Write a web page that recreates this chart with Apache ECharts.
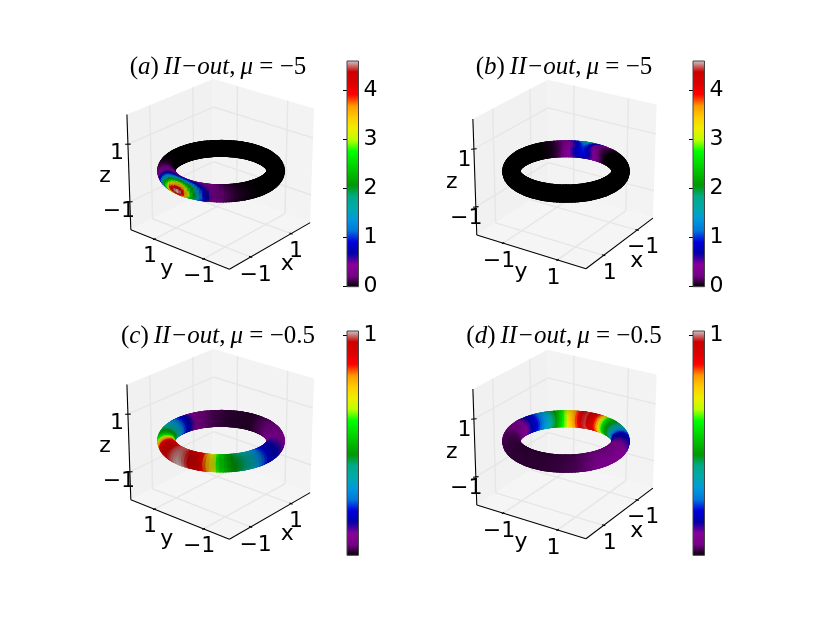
<!DOCTYPE html>
<html>
<head>
<meta charset="utf-8">
<title>II-out densities on a torus</title>
<style>html,body{margin:0;padding:0;background:#fff}#chart{width:817px;height:617px}</style>
<script src="https://cdn.jsdelivr.net/npm/echarts@6/dist/echarts.min.js"></script>
</head>
<body>
<div id="chart"></div>
<script>
// Density around the ring, one value every 10 degrees of the ring angle, for four bands of the tube cross-section.
const aOuter  = [0,0,0,0,0,0,0,0,0,0,0,.02,.05,.12,.3,.8,2.2,4,4.6,3.2,1.5,.6,.25,.12,.05,.02,0,0,0,0,0,0,0,0,0,0];
const aTop    = [0,0,0,0,0,0,0,0,0,0,0,.01,.03,.08,.2,.45,.8,1.05,1.1,.75,.45,.3,.15,.07,.03,.01,0,0,0,0,0,0,0,0,0,0];
const aInner  = [0,0,0,0,0,0,0,0,0,0,0,0,0,0,.01,.02,.04,.05,.05,.04,.03,.02,.01,0,0,0,0,0,0,0,0,0,0,0,0,0];
const aBottom = [0,0,0,0,0,0,0,0,0,0,0,.01,.03,.08,.2,.6,1.2,2,2.4,1.2,.5,.25,.12,.05,.02,0,0,0,0,0,0,0,0,0,0,0];
const bOuter  = [0,0,0,0,0,0,0,0,0,0,0,0,0,0,.02,.15,.6,1.6,3.4,5,2.8,1.2,.5,.2,.05,0,0,0,0,0,0,0,0,0,0,0];
const bTop    = [0,0,0,0,0,0,0,0,0,0,0,0,0,0,0,.02,.15,.35,.8,1.6,.9,.42,.2,.08,.03,0,0,0,0,0,0,0,0,0,0,0];
const bInner  = [0,0,0,0,0,0,0,0,0,0,0,0,0,0,0,.01,.1,.3,.65,.9,.75,.4,.18,.06,.02,0,0,0,0,0,0,0,0,0,0,0];
const bBottom = [0,0,0,0,0,0,0,0,0,0,0,0,0,0,0,.02,.12,.32,.7,1,.8,.42,.2,.07,.02,0,0,0,0,0,0,0,0,0,0,0];
const cOuter  = [.018,.018,.02,.022,.028,.035,.05,.08,.13,.2,.28,.36,.44,.53,.7,.9,.95,.99,1.01,.97,.92,.76,.58,.47,.42,.34,.24,.18,.15,.12,.1,.08,.06,.05,.04,.03];
const cTop    = [.018,.018,.02,.022,.028,.035,.05,.08,.13,.2,.27,.35,.42,.5,.66,.88,.93,.98,.99,.96,.9,.74,.56,.45,.4,.32,.23,.18,.15,.12,.1,.08,.06,.05,.04,.03];
const dOuter  = [.02,.02,.022,.025,.03,.04,.05,.06,.07,.09,.11,.14,.18,.28,.38,.46,.58,.8,.93,.99,.84,.72,.55,.42,.31,.23,.17,.12,.08,.06,.045,.035,.03,.025,.022,.02];
const dTop    = [.02,.02,.022,.025,.03,.04,.05,.06,.07,.09,.11,.14,.18,.28,.38,.46,.58,.8,.93,.98,.84,.72,.55,.42,.31,.23,.17,.12,.08,.06,.045,.035,.03,.025,.022,.02];

const xyTicks = [-1, 1];
const zTicks = [-1, 1];
const barTicksLarge = [0, 1, 2, 3, 4];
const barTicksSmall = [1];
const titleTags = ['a', 'b', 'c', 'd'];
const titleMu = ['−5', '−5', '−0.5', '−0.5'];

// nipy_spectral colour stops
const spectral = ['#000000','#770088','#880099','#0000aa','#0000dd','#0077dd','#0099dd','#00aaaa','#00aa88','#009900','#00bb00','#00dd00','#00ff00','#bbff00','#eeee00','#ffcc00','#ff9900','#ff0000','#dd0000','#cc0000','#cccccc'];

const AXIS_LIM = 2, RING_R = 1.68, TUBE_R = 0.26, CAM_DIST = 10, ELEV = 25;
const FONT = '"DejaVu Sans"';
const LIGHT = [-1/1.5, -1/1.5, 0.5/1.5];

const panels = [
  {cx:221, cy:170,   az:220, vmax:4.6,  bands:[aOuter,aTop,aInner,aBottom], bar:347, barTop:61,  barH:225.7, barTicks:barTicksLarge,
   off:{x:[5,18], y:[-4.5,17.5], z:[-11,9.5], nx:[16,19], ny:[-12,20], nz:[-24,3]}, titleX:213, titleY:68},
  {cx:566, cy:170.3, az:33,  vmax:4.6,  bands:[bOuter,bTop,bInner,bBottom], bar:693, barTop:61,  barH:225.7, barTicks:barTicksLarge,
   off:{x:[6,17.5], y:[-4,18], z:[-9.5,11.5], nx:[16,19], ny:[-9,21], nz:[-23,4]}, titleX:559, titleY:68},
  {cx:221, cy:440,   az:220, vmax:1.02, bands:[cOuter,cTop,cTop,cOuter],    bar:347, barTop:331, barH:224.3, barTicks:barTicksSmall,
   off:{x:[5,18], y:[-4.5,17.5], z:[-11,9.5], nx:[16,19], ny:[-12,20], nz:[-24,3]}, titleX:213, titleY:337},
  {cx:566, cy:440.3, az:33,  vmax:1.02, bands:[dOuter,dTop,dTop,dOuter],    bar:693, barTop:331, barH:224.3, barTicks:barTicksSmall,
   off:{x:[6,17.5], y:[-4,18], z:[-9.5,11.5], nx:[16,19], ny:[-9,21], nz:[-23,4]}, titleX:559, titleY:337}
];

function makeCamera(azDeg) {
  const a = azDeg * Math.PI / 180, e = ELEV * Math.PI / 180;
  const right = [-Math.sin(a), Math.cos(a), 0];
  const up = [-Math.sin(e) * Math.cos(a), -Math.sin(e) * Math.sin(a), Math.cos(e)];
  const n = [Math.cos(e) * Math.cos(a), Math.cos(e) * Math.sin(a), Math.sin(e)];
  const dot = (u, v) => u[0]*v[0] + u[1]*v[1] + u[2]*v[2];
  return {
    n,
    // world point to view plane; the box is scaled to a unit cube first
    project(p) {
      const q = [p[0] / (2*AXIS_LIM), p[1] / (2*AXIS_LIM), p[2] / (2*AXIS_LIM)];
      const depth = dot(q, n), f = CAM_DIST / (CAM_DIST - depth);
      return [dot(q, right) * f, dot(q, up) * f, depth];
    },
    eye: [n[0]*CAM_DIST*2*AXIS_LIM, n[1]*CAM_DIST*2*AXIS_LIM, n[2]*CAM_DIST*2*AXIS_LIM]
  };
}

function hexToRgb(h) { return [1,3,5].map(i => parseInt(h.substr(i,2),16)); }
const spectralRgb = spectral.map(hexToRgb);
function cmap(t, shade) {
  t = Math.max(0, Math.min(1, t)) * (spectralRgb.length - 1);
  const i = Math.min(spectralRgb.length - 2, Math.floor(t)), k = t - i;
  const a = spectralRgb[i], b = spectralRgb[i+1];
  return 'rgb(' + [0,1,2].map(c => Math.round((a[c] + (b[c]-a[c])*k) * shade)).join(',') + ')';
}

function spline(p0, p1, p2, p3, t) {
  return 0.5 * (2*p1 + (p2-p0)*t + (2*p0-5*p1+4*p2-p3)*t*t + (3*p1-p0-3*p2+p3)*t*t*t);
}
function ringAt(band, deg) {
  const n = band.length, s = ((deg % 360) + 360) % 360 / (360/n), i = Math.floor(s), t = s - i;
  return spline(band[(i-1+n)%n], band[i%n], band[(i+1)%n], band[(i+2)%n], t);
}
function density(bands, thetaDeg, phiDeg) {
  const s = ((phiDeg % 360) + 360) % 360 / 90, i = Math.floor(s), t = s - i, v = k => ringAt(bands[(k+4)%4], thetaDeg);
  return Math.max(0, spline(v(i-1), v(i), v(i+1), v(i+2), t));
}

// Visible torus facets, far ones first
function torusCells(panel, cam) {
  const dT = 3, dP = 10, cells = [];
  const pt = (t, p) => {
    const a = t*Math.PI/180, b = p*Math.PI/180, r = RING_R + TUBE_R*Math.cos(b);
    return [r*Math.cos(a), r*Math.sin(a), TUBE_R*Math.sin(b)];
  };
  for (let t = 0; t < 360; t += dT) {
    for (let p = 0; p < 360; p += dP) {
      const tc = t + dT/2, pc = p + dP/2, a = tc*Math.PI/180, b = pc*Math.PI/180;
      const c = pt(tc, pc), nrm = [Math.cos(b)*Math.cos(a), Math.cos(b)*Math.sin(a), Math.sin(b)];
      const toEye = [cam.eye[0]-c[0], cam.eye[1]-c[1], cam.eye[2]-c[2]];
      if (nrm[0]*toEye[0] + nrm[1]*toEye[1] + nrm[2]*toEye[2] < -0.5) continue;
      const q = [pt(t,p), pt(t+dT,p), pt(t+dT,p+dP), pt(t,p+dP)].map(cam.project);
      const shade = 0.875 - 0.125 * (nrm[0]*LIGHT[0] + nrm[1]*LIGHT[1] + nrm[2]*LIGHT[2]);
      cells.push([q[0][0],q[0][1],q[1][0],q[1][1],q[2][0],q[2][1],q[3][0],q[3][1], density(panel.bands, tc, pc), shade, cam.project(c)[2]]);
    }
  }
  return cells.sort((u, v) => u[10] - v[10]);
}

function scene(panel, cam, gridIndex) {
  const L = AXIS_LIM;
  const fx = cam.n[0] > 0 ? -L : L, fy = cam.n[1] > 0 ? -L : L;   // far walls
  const nx = -fx, ny = -fy;                                       // near edges
  const P = cam.project;
  const panes = [
    {fill:'#f3f3f3', q:[[fx,-L,-L],[fx,L,-L],[fx,L,L],[fx,-L,L]]},
    {fill:'#f1f1f1', q:[[-L,fy,-L],[L,fy,-L],[L,fy,L],[-L,fy,L]]},
    {fill:'#f5f5f5', q:[[-L,-L,-L],[L,-L,-L],[L,L,-L],[-L,L,-L]]}
  ];
  const segs = [], labels = [];
  const GRID = {stroke:'#e6e6e6', lineWidth:1.4}, AX = {stroke:'#000', lineWidth:1.1};
  const seg = (a, b, st) => segs.push({a:P(a), b:P(b), st});
  xyTicks.forEach(t => {
    seg([t,ny,-L],[t,fy,-L],GRID); seg([t,fy,-L],[t,fy,L],GRID);
    seg([nx,t,-L],[fx,t,-L],GRID); seg([fx,t,-L],[fx,t,L],GRID);
  });
  zTicks.forEach(t => {
    seg([nx,fy,t],[fx,fy,t],GRID); seg([fx,fy,t],[fx,ny,t],GRID);
  });
  seg([nx,ny,-L],[fx,ny,-L],AX);
  seg([nx,ny,-L],[nx,fy,-L],AX);
  // the z axis stands on the corner that appears at the left
  seg([nx,fy,-L],[nx,fy,L],AX);
  const dTick = 0.06;
  const sx = Math.sign(ny), sy = Math.sign(nx);
  const addLabel = (p, off, text) => { const q = P(p); labels.push({v:[q[0],q[1]], off, text}); };
  xyTicks.forEach(t => {
    seg([t,ny-sx*dTick,-L],[t,ny+sx*dTick,-L],AX);
    addLabel([t,ny,-L], panel.off.x, String(t).replace('-','−'));
    seg([nx-sy*dTick,t,-L],[nx+sy*dTick,t,-L],AX);
    addLabel([nx,t,-L], panel.off.y, String(t).replace('-','−'));
  });
  zTicks.forEach(t => {
    seg([nx-sy*dTick,fy+sx*dTick,t],[nx+sy*dTick,fy-sx*dTick,t],AX);
    addLabel([nx,fy,t], panel.off.z, String(t).replace('-','−'));
  });
  addLabel([0,ny,-L], panel.off.nx, 'x');
  addLabel([nx,0,-L], panel.off.ny, 'y');
  addLabel([nx,fy,0], panel.off.nz, 'z');

  const base = {type:'custom', coordinateSystem:'cartesian2d', xAxisIndex:gridIndex, yAxisIndex:gridIndex,
                silent:true, animation:false, clip:false, progressive:0};
  return [
    Object.assign({}, base, {
      z:1,
      data: panes.map(pn => pn.q.map(P).reduce((o, q) => o.concat([q[0], q[1]]), [])),
      renderItem(params, api) {
        const pts = [0,2,4,6].map(k => api.coord([api.value(k), api.value(k+1)]));
        return {type:'polygon', shape:{points:pts}, style:{fill:panes[params.dataIndex].fill}};
      }
    }),
    Object.assign({}, base, {
      z:2,
      data: segs.map(s => [s.a[0], s.a[1], s.b[0], s.b[1]]),
      renderItem(params, api) {
        const a = api.coord([api.value(0), api.value(1)]), b = api.coord([api.value(2), api.value(3)]);
        return {type:'line', shape:{x1:a[0],y1:a[1],x2:b[0],y2:b[1]}, style:segs[params.dataIndex].st};
      }
    }),
    Object.assign({}, base, {
      z:3,
      data: torusCells(panel, cam),
      renderItem(params, api) {
        const pts = [0,2,4,6].map(k => api.coord([api.value(k), api.value(k+1)]));
        const col = cmap(api.value(8) / panel.vmax, api.value(9));
        return {type:'polygon', shape:{points:pts}, style:{fill:col, stroke:col, lineWidth:1.2}};
      }
    }),
    Object.assign({}, base, {
      z:4,
      data: labels.map(l => l.v),
      renderItem(params, api) {
        const l = labels[params.dataIndex], c = api.coord([api.value(0), api.value(1)]);
        return {type:'text', style:{x:c[0]+l.off[0], y:c[1]+l.off[1], text:l.text, fill:'#000',
                fontFamily:FONT, fontSize:22, align:'center', verticalAlign:'middle'}};
      }
    })
  ];
}

const grids = [], xAxes = [], yAxes = [], series = [], titles = [];
panels.forEach((panel, i) => {
  grids.push({left:panel.cx-130, top:panel.cy-126.5, width:260, height:253, containLabel:false});
  xAxes.push({type:'value', gridIndex:i, show:false, min:-1, max:1});
  yAxes.push({type:'value', gridIndex:i, show:false, min:-1, max:1});
  series.push(...scene(panel, makeCamera(panel.az), i));
  titles.push({
    left:panel.titleX, top:panel.titleY-18, textAlign:'center',
    text:'{r|(}{i|' + titleTags[i] + '}{r|)} {i|II−out}{r|,} {i|μ}{r| = ' + titleMu[i] + '}',
    textStyle:{rich:{
      r:{fontFamily:'"Liberation Serif"', fontSize:25, fontWeight:'normal', color:'#000'},
      i:{fontFamily:'"Liberation Serif"', fontSize:25, fontWeight:'normal', fontStyle:'italic', color:'#000'}
    }}
  });
});
panels.forEach((panel, i) => {
  const g = panels.length + i;
  grids.push({left:panel.bar, top:panel.barTop, width:11.5, height:panel.barH});
  xAxes.push({type:'value', gridIndex:g, show:false, min:0, max:1});
  yAxes.push({
    type:'value', gridIndex:g, position:'right', min:0, max:panel.vmax,
    splitLine:{show:false}, axisLine:{show:false},
    axisTick:{show:true, inside:true, length:4, customValues:panel.barTicks, lineStyle:{color:'#000', width:1}},
    axisLabel:{show:true, customValues:panel.barTicks, margin:5, fontFamily:FONT, fontSize:22, color:'#000'}
  });
  series.push({
    type:'custom', coordinateSystem:'cartesian2d', xAxisIndex:g, yAxisIndex:g, silent:true, animation:false, clip:false,
    z:1, data:[[0, 0, 1, panel.vmax]],
    renderItem(params, api) {
      const a = api.coord([api.value(0), api.value(1)]), b = api.coord([api.value(2), api.value(3)]);
      const stops = spectral.map((c, k) => ({offset:k/(spectral.length-1), color:c}));
      return {type:'rect', shape:{x:a[0], y:b[1], width:b[0]-a[0], height:a[1]-b[1]},
              style:{fill:new echarts.graphic.LinearGradient(0,1,0,0,stops), stroke:'#444', lineWidth:1}};
    }
  });
});

const chart = echarts.init(document.getElementById('chart'), null, {renderer:'canvas'});
chart.setOption({backgroundColor:'#fff', animation:false, title:titles, grid:grids, xAxis:xAxes, yAxis:yAxes, series});
</script>
</body>
</html>
